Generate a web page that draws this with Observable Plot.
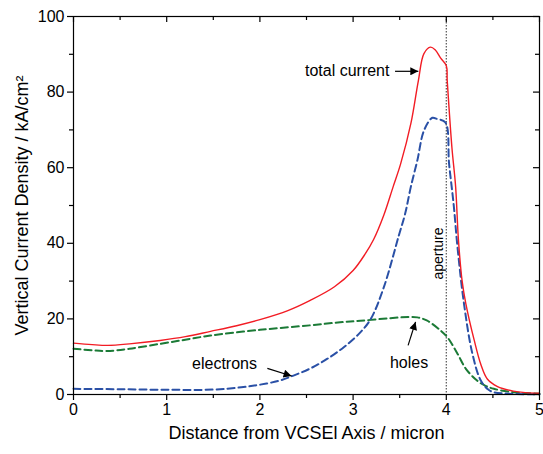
<!DOCTYPE html>
<html>
<head>
<meta charset="utf-8">
<script src="https://cdn.jsdelivr.net/npm/d3@7"></script>
<script src="https://cdn.jsdelivr.net/npm/@observablehq/plot@0.6"></script>
<style>
  html, body { margin: 0; padding: 0; background: #fff; }
  svg { display: block; }
</style>
</head>
<body>
<div id="chart"></div>
<script>
// distance from VCSEL axis (micron), current density (kA/cm^2)
const totalX = [0, 0.2, 0.37, 0.6, 0.93, 1.2, 1.47, 1.75, 2.0, 2.3, 2.54, 2.8, 3.0, 3.13, 3.22, 3.33, 3.43, 3.51, 3.62, 3.70, 3.76, 3.83, 3.88, 3.94, 4.0, 4.01, 4.06, 4.1, 4.13, 4.17, 4.21, 4.3, 4.37, 4.44, 4.55, 4.72, 4.85, 5.0];
const totalY = [13.6, 13.2, 13.0, 13.4, 14.3, 15.3, 16.7, 18.2, 19.8, 22.2, 24.9, 28.5, 32.8, 37.2, 41, 47.5, 55, 61, 71.7, 83, 90.2, 91.9, 91.2, 89, 87, 83, 65.4, 55, 41, 30, 24, 14.3, 8, 4.1, 2.1, 0.9, 0.5, 0.35];

const electronsX = [0, 0.5, 1.0, 1.5, 1.8, 2.0, 2.2, 2.36, 2.55, 2.72, 2.9, 3.08, 3.19, 3.33, 3.49, 3.56, 3.62, 3.69, 3.76, 3.85, 3.9, 3.99, 4.03, 4.08, 4.12, 4.19, 4.28, 4.37, 4.45, 4.51, 4.7, 5.0];
const electronsY = [1.5, 1.4, 1.25, 1.3, 1.9, 2.6, 3.6, 5.0, 7.0, 9.4, 12.5, 16.5, 20, 28.4, 42, 48, 55, 62, 69.8, 73.2, 72.9, 72, 61, 50, 39, 24, 10.8, 3.7, 1.3, 0.6, 0.15, 0.05];

const holesX = [0, 0.2, 0.36, 0.6, 0.93, 1.2, 1.47, 2.0, 2.54, 2.86, 3.08, 3.4, 3.6, 3.69, 3.79, 3.94, 4.01, 4.12, 4.21, 4.33, 4.42, 4.51, 4.72, 5.0];
const holesY = [12.1, 11.7, 11.5, 12.1, 13.4, 14.5, 15.6, 17.1, 18.3, 19.1, 19.5, 20.2, 20.5, 20.4, 19.6, 16.9, 15.2, 10.8, 6.8, 3.7, 2.3, 1.5, 0.6, 0.2];

const apertureX = [4];

const xMajor = [0, 1, 2, 3, 4, 5];
const xMinor = [0.5, 1.5, 2.5, 3.5, 4.5];
const yMajor = [0, 20, 40, 60, 80, 100];
const yMinor = [10, 30, 50, 70, 90];

// annotations (data units)
const noteText = ["total current", "electrons", "holes"];
const noteX = [3.39, 1.62, 3.6];
const noteY = [85.5, 8.2, 8.4];
const arrowX1 = [3.45, 2.08, 3.59];
const arrowY1 = [85.5, 6.9, 13.0];
const arrowX2 = [3.70, 2.34, 3.67];
const arrowY2 = [85.5, 4.9, 19.2];

const toRows = (xs, ys) => xs.map((x, i) => ({x, y: ys[i]}));
const total = toRows(totalX, totalY);
const electrons = toRows(electronsX, electronsY);
const holes = toRows(holesX, holesY);
const notes = noteText.map((t, i) => ({t, x: noteX[i], y: noteY[i]}));
const arrows = arrowX1.map((x1, i) => ({x1, y1: arrowY1[i], x2: arrowX2[i], y2: arrowY2[i]}));

const W = 543, H = 454, ML = 73, MR = 4, MT = 16, MB = 60;
const FW = W - ML - MR, FH = H - MT - MB;
const font = "'Liberation Sans', Arial, Helvetica, sans-serif";
const intFmt = d3.format("d");
const blank = () => "";
const sw = 1.2;

const plot = Plot.plot({
  width: W,
  height: H,
  marginLeft: ML,
  marginRight: MR,
  marginTop: MT,
  marginBottom: MB,
  style: {fontFamily: font, fontSize: "16px", color: "#000", background: "#fff"},
  x: {domain: [0, 5]},
  y: {domain: [0, 100]},
  marks: [
    Plot.ruleX(apertureX, {stroke: "#555", strokeWidth: 1.2, strokeDasharray: "1.5,1.5"}),
    Plot.text(["aperture"], {x: apertureX, y: [37.3], text: d => d, rotate: -90, dx: -8, fontSize: 14, fill: "#000"}),
    Plot.line(holes, {x: "x", y: "y", stroke: "#1b7a36", strokeWidth: 2, strokeDasharray: "7,4", curve: "catmull-rom"}),
    Plot.line(electrons, {x: "x", y: "y", stroke: "#2a50a6", strokeWidth: 2, strokeDasharray: "7,4", curve: "catmull-rom"}),
    Plot.line(total, {x: "x", y: "y", stroke: "#f21c24", strokeWidth: 1.4, curve: "catmull-rom"}),
    Plot.link(arrows, {x1: "x1", y1: "y1", x2: "x2", y2: "y2", stroke: "#000", strokeWidth: 1.2}),
    Plot.text(notes.slice(0, 1), {x: "x", y: "y", text: "t", textAnchor: "end", fontSize: 16, fill: "#000"}),
    Plot.text(notes.slice(1), {x: "x", y: "y", text: "t", textAnchor: "middle", fontSize: 16, fill: "#000"}),
    Plot.frame({stroke: "#000", strokeWidth: sw}),
    // inward mirror ticks on top and right edges
    Plot.tickX(xMajor, {x: d => d, insetBottom: FH - 6, stroke: "#000", strokeWidth: sw}),
    Plot.tickX(xMinor, {x: d => d, insetBottom: FH - 4, stroke: "#000", strokeWidth: sw}),
    Plot.tickY(yMajor, {y: d => d, insetLeft: FW - 6, stroke: "#000", strokeWidth: sw}),
    Plot.tickY(yMinor, {y: d => d, insetLeft: FW - 4, stroke: "#000", strokeWidth: sw}),
    // outward ticks with labels on left and bottom
    Plot.axisY({ticks: yMajor, tickSize: 6, tickPadding: 3, tickFormat: intFmt, fontSize: 16, label: null, strokeWidth: sw}),
    Plot.axisY({ticks: yMinor, tickSize: 4, tickFormat: blank, label: null, strokeWidth: sw}),
    Plot.axisX({ticks: xMajor, tickSize: 6, tickPadding: 3, tickFormat: intFmt, fontSize: 16, label: null, strokeWidth: sw}),
    Plot.axisX({ticks: xMinor, tickSize: 4, tickFormat: blank, label: null, strokeWidth: sw}),
    Plot.text(["Distance from VCSEl Axis / micron"], {frameAnchor: "bottom", textAnchor: "middle", dy: 44, fontSize: 18, fill: "#000"}),
    Plot.text(["Vertical Current Density / kA/cm\u00B2"], {frameAnchor: "left", textAnchor: "middle", dx: -51, rotate: -90, fontSize: 18, fill: "#000"})
  ]
});

// filled arrow heads for the annotation links
const svg = d3.select(plot);
const defs = svg.insert("defs", ":first-child");
defs.append("marker")
  .attr("id", "ahead")
  .attr("viewBox", "0 0 10 10")
  .attr("refX", 10).attr("refY", 5)
  .attr("markerUnits", "userSpaceOnUse")
  .attr("markerWidth", 12).attr("markerHeight", 8)
  .attr("orient", "auto")
  .append("path").attr("d", "M0,0L10,5L0,10z").attr("fill", "#000");
svg.selectAll('g[aria-label="link"] path').attr("marker-end", "url(#ahead)");

document.getElementById("chart").appendChild(plot);
</script>
</body>
</html>
